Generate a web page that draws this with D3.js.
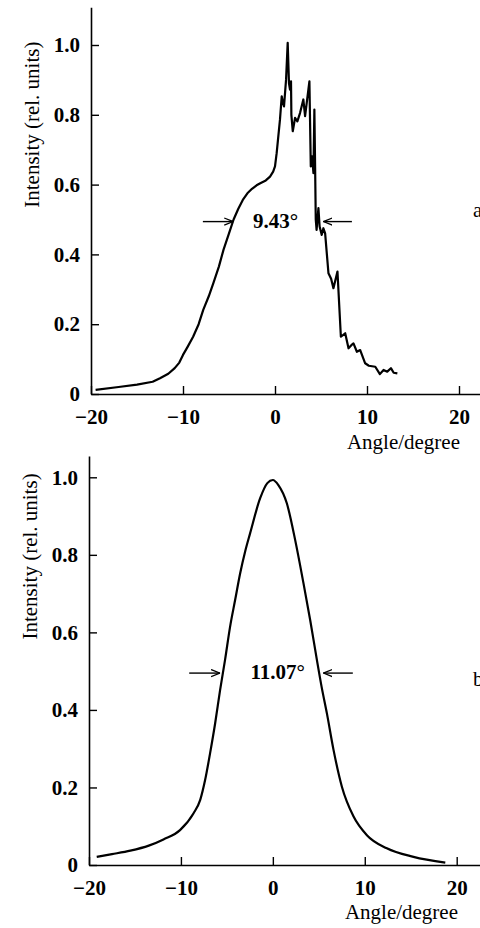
<!DOCTYPE html>
<html>
<head>
<meta charset="utf-8">
<script src="https://cdn.jsdelivr.net/npm/d3@7"></script>
<style>
  body { margin: 0; background: #fff; }
  svg { display: block; }
  text { font-family: "Liberation Serif", "Times New Roman", serif; fill: #000; }
</style>
</head>
<body>
<svg id="chart" width="480" height="928"></svg>
<script>
// panel a: measured profile (angle in degrees, relative intensity)
const angleA = [-19.5, -17, -15, -13.3, -12.5, -11.6, -10.9, -10.4, -10, -9.5, -8.9, -8.3, -7.8, -7.2, -6.7, -6.1, -5.6, -5.0, -4.5, -4.0, -3.5, -3.0, -2.5, -2.0, -1.6, -1.0, -0.54, -0.2, 0, 0.18, 0.54, 0.73, 0.86, 0.98, 1.2, 1.38, 1.52, 1.63, 1.74, 1.78, 1.93, 2.18, 2.43, 2.72, 3.08, 3.27, 3.74, 3.89, 4.03, 4.18, 4.28, 4.36, 4.43, 4.52, 4.72, 4.85, 5.08, 5.26, 5.45, 5.81, 6.1, 6.35, 6.79, 7.16, 7.63, 7.99, 8.3, 8.53, 8.9, 9.26, 9.8, 10.2, 10.9, 11.4, 11.8, 12.2, 12.6, 12.9, 13.3];
const intensityA = [0.012, 0.02, 0.027, 0.035, 0.045, 0.058, 0.074, 0.09, 0.112, 0.135, 0.164, 0.2, 0.241, 0.28, 0.318, 0.365, 0.413, 0.46, 0.5, 0.53, 0.556, 0.575, 0.588, 0.598, 0.604, 0.612, 0.623, 0.637, 0.652, 0.69, 0.786, 0.853, 0.835, 0.824, 0.9, 1.006, 0.89, 0.872, 0.896, 0.8, 0.753, 0.791, 0.781, 0.805, 0.844, 0.796, 0.896, 0.652, 0.681, 0.633, 0.815, 0.652, 0.5, 0.47, 0.533, 0.48, 0.456, 0.475, 0.46, 0.346, 0.33, 0.303, 0.351, 0.164, 0.174, 0.131, 0.14, 0.145, 0.121, 0.126, 0.088, 0.081, 0.078, 0.057, 0.069, 0.064, 0.074, 0.061, 0.059];

// panel b: measured profile
const angleB = [-19.16, -17.5, -15.5, -13.5, -11.9, -10.1, -8.64, -7.9, -7.37, -6.83, -6.28, -5.74, -5.2, -4.65, -4.1, -3.56, -3.0, -2.47, -1.38, -0.6, 0, 0.6, 1.52, 2.43, 3.33, 4.06, 4.79, 5.3, 5.88, 6.6, 7.51, 8.78, 10.23, 12.4, 15.3, 18.76];
const intensityB = [0.021, 0.028, 0.037, 0.05, 0.066, 0.09, 0.133, 0.168, 0.219, 0.288, 0.365, 0.451, 0.529, 0.615, 0.684, 0.752, 0.81, 0.856, 0.946, 0.985, 0.993, 0.98, 0.933, 0.838, 0.727, 0.632, 0.529, 0.46, 0.391, 0.297, 0.202, 0.125, 0.077, 0.043, 0.021, 0.006];

const xTicks = [-20, -10, 0, 10, 20];
const yTicks = [0, 0.2, 0.4, 0.6, 0.8, 1.0];

// FWHM markers: [left tail, left head], [right tail, right head], level, label
const fwhmA = { left: [-7.84, -4.54], right: [8.36, 5.26], level: 0.494, label: "9.43°", labelX: 0.05 };
const fwhmB = { left: [-9.1, -5.74], right: [8.7, 5.5], level: 0.495, label: "11.07°", labelX: 0.52 };

const svg = d3.select("#chart");

svg.append("defs").append("marker")
    .attr("id", "head")
    .attr("viewBox", "0 0 10 10")
    .attr("refX", 10).attr("refY", 5)
    .attr("markerWidth", 9).attr("markerHeight", 9)
    .attr("markerUnits", "userSpaceOnUse")
    .attr("orient", "auto")
    .append("path")
    .attr("d", "M0,1 L10,5 L0,9")
    .attr("fill", "none")
    .attr("stroke", "#000")
    .attr("stroke-width", 1.4);

function drawPanel(opt) {
    const x = d3.scaleLinear().domain([-20, 20]).range([opt.x0, opt.x1]);
    const y = d3.scaleLinear().domain([0, 1]).range([opt.y0, opt.y1]);
    const g = svg.append("g");

    const fmt = d => d === 0 ? "0" : d3.format(".1f")(d);

    // y axis, drawn up to yTop
    const yAxis = g.append("g")
        .attr("transform", `translate(${opt.x0},0)`)
        .call(d3.axisLeft(y.copy().domain([0, opt.yTop]).range([opt.y0, y(opt.yTop)]))
            .tickValues(yTicks).tickFormat(fmt)
            .tickSizeInner(-8).tickSizeOuter(0).tickPadding(11));

    const xAxis = g.append("g")
        .attr("transform", `translate(0,${opt.y0})`)
        .call(d3.axisBottom(x.copy().domain([-20, 24]).range([opt.x0, x(24)]))
            .tickValues(xTicks)
            .tickSizeInner(-8).tickSizeOuter(0).tickPadding(14.6));

    [yAxis, xAxis].forEach(a => {
        a.select(".domain").attr("stroke", "#000").attr("stroke-width", 1.6);
        a.selectAll(".tick line").attr("stroke", "#000").attr("stroke-width", 1.4);
        a.selectAll(".tick text")
            .style("font-family", "'Liberation Serif', serif")
            .style("font-size", "21px")
            .style("font-weight", "bold");
    });

    const line = d3.line()
        .x(d => x(d[0]))
        .y(d => y(d[1]))
        .curve(opt.curve);

    g.append("path")
        .datum(d3.zip(opt.angle, opt.intensity))
        .attr("d", line)
        .attr("fill", "none")
        .attr("stroke", "#000")
        .attr("stroke-width", 2.2)
        .attr("stroke-linejoin", "round");

    // FWHM arrows and label
    const f = opt.fwhm;
    [f.left, f.right].forEach(seg => {
        g.append("line")
            .attr("x1", x(seg[0])).attr("x2", x(seg[1]))
            .attr("y1", y(f.level)).attr("y2", y(f.level))
            .attr("stroke", "#000").attr("stroke-width", 1.4)
            .attr("marker-end", "url(#head)");
    });
    g.append("text")
        .attr("x", x(f.labelX)).attr("y", y(f.level))
        .attr("dy", "0.3em")
        .attr("text-anchor", "middle")
        .style("font-size", "21px")
        .style("font-weight", "bold")
        .text(f.label);

    g.append("text")
        .attr("x", 473).attr("y", opt.letterY)
        .style("font-size", "21px")
        .text(opt.letter);

    g.append("text")
        .attr("transform", `translate(${opt.x0 - 59},${(opt.y0 + y(opt.yTop)) / 2 - opt.yLabelShift}) rotate(-90)`)
        .attr("text-anchor", "middle")
        .attr("dy", "0.35em")
        .style("font-size", "21px")
        .text("Intensity (rel. units)");

    g.append("text")
        .attr("x", opt.titleX).attr("y", opt.titleY)
        .attr("text-anchor", "end")
        .style("font-size", "21px")
        .text("Angle/degree");
}

drawPanel({
    x0: 91, x1: 459, y0: 394, y1: 45, yTop: 1.108,
    angle: angleA, intensity: intensityA, curve: d3.curveLinear,
    fwhm: fwhmA, letter: "a", letterY: 217, yLabelShift: 76,
    titleX: 460, titleY: 449
});

drawPanel({
    x0: 89, x1: 456.7, y0: 865, y1: 477.3, yTop: 1.055,
    angle: angleB, intensity: intensityB, curve: d3.curveMonotoneX,
    fwhm: fwhmB, letter: "b", letterY: 686, yLabelShift: 104,
    titleX: 458, titleY: 919
});
</script>
</body>
</html>
